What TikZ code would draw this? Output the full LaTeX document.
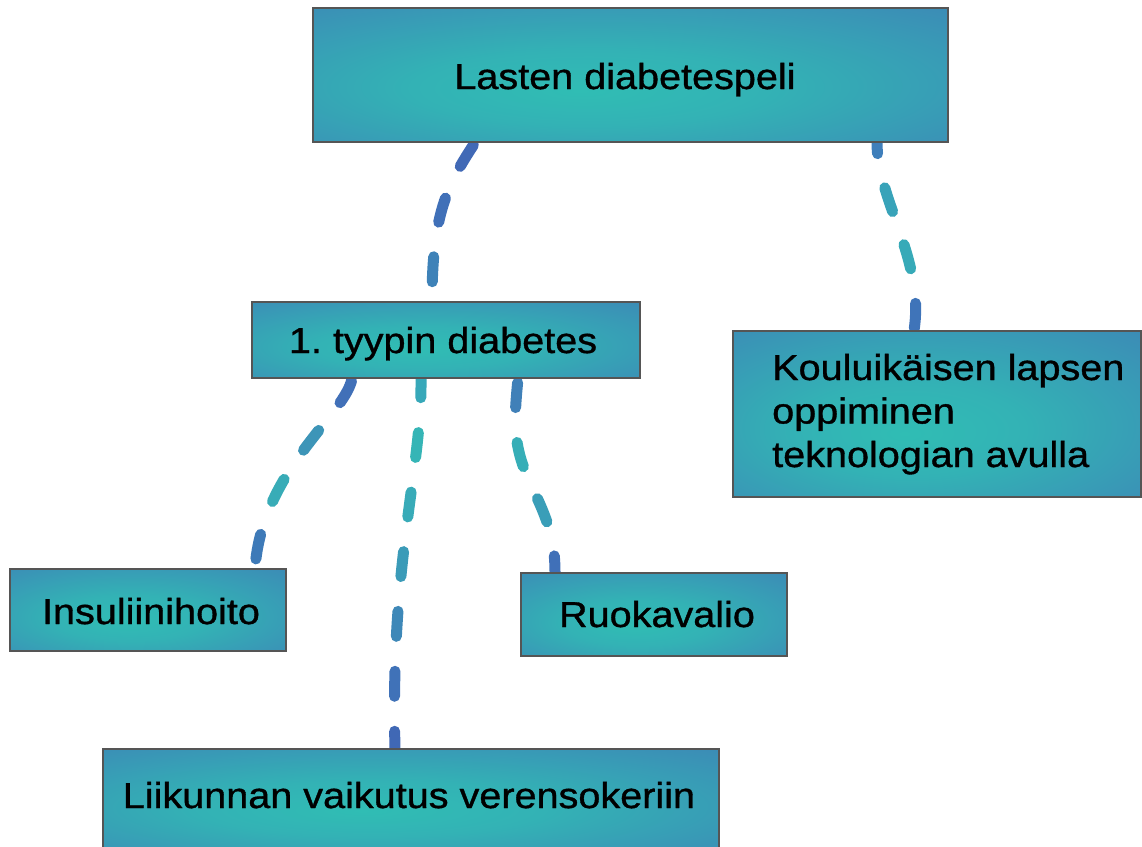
\documentclass[tikz,border=0pt]{standalone}
\usepackage{fontspec}
\setmainfont{Liberation Sans}[FakeStretch=1.1,FakeBold=1]
\usetikzlibrary{calc}
\definecolor{shA}{HTML}{30BDB4}
\definecolor{shB}{HTML}{33B2B5}
\definecolor{shC}{HTML}{3A93B6}
\definecolor{shE}{HTML}{3F78B6}
\definecolor{shD}{HTML}{4169B6}
\definecolor{edge}{HTML}{555555}
\pgfdeclareradialshading{boxshade}{\pgfpoint{-4bp}{-6bp}}{color(0bp)=(shA); color(14bp)=(shB); color(34bp)=(shC); color(52bp)=(shE); color(72bp)=(shD)}
\pgfdeclarelayer{bg}
\pgfsetlayers{bg,main}
\tikzset{
  box/.style={rectangle, shade, shading=boxshade, draw=edge, line width=1.3pt, inner sep=0pt},
  lbl/.style={inner sep=0pt, text=black, font=\frenchspacing\fontsize{36}{43.5}\selectfont},
  conn/.style={line width=11pt, line cap=round}
}
\newcommand\dashconn[3]{%
  \foreach \c [count=\k from 0] in {#2} {%
    \pgfmathsetmacro\ph{mod(3025-(#1)-60*\k+6050,3025)}%
    \definecolor{dc}{HTML}{\c}%
    \draw[conn, color=dc, dash pattern=on 25pt off 3000pt, dash phase=\ph pt] #3;
  }%
}
\begin{document}
\begin{tikzpicture}[x=1pt,y=-1pt]
\useasboundingbox (0,0) rectangle (1142,846);
\clip (0,0) rectangle (1142,846);
\begin{pgfonlayer}{bg}
\fill[white] (0,0) rectangle (1142,846);
\end{pgfonlayer}

% boxes
\node[box, minimum width=635pt, minimum height=134pt] (top) at (630.5,75) {};
\node[box, minimum width=388pt, minimum height=76pt] (tyyp) at (446,340) {};
\node[box, minimum width=408pt, minimum height=166pt] (koulu) at (937,414) {};
\node[box, minimum width=276pt, minimum height=82pt] (insul) at (148,610) {};
\node[box, minimum width=266pt, minimum height=83pt] (ruoka) at (654,614.5) {};
\node[box, minimum width=616pt, minimum height=100pt] (liik) at (411,799) {};

% texts
\node[lbl, anchor=base] (tTop) at (625,89) {Lasten diabetespeli};
\node[lbl, anchor=base] (tTyyp) at (443,353) {1. tyypin diabetes};
\node[lbl, anchor=base west] (tKoulu) at (772,380) {\begin{tabular}[t]{@{}l@{}}Kouluikäisen lapsen\\oppiminen\\teknologian avulla\end{tabular}};
\node[lbl, anchor=base] (tInsul) at (151,624) {Insuliinihoito};
\node[lbl, anchor=base] (tRuoka) at (657,627) {Ruokavalio};
\node[lbl, anchor=base] (tLiik) at (409,808) {Liikunnan vaikutus verensokeriin};

% connectors
\begin{pgfonlayer}{bg}
\dashconn{3}{4169B6,4070B8,3E82B8}{(top.south -| 475,0) .. controls (447,185) and (432,215) .. (tyyp.north -| 432,0)}
\dashconn{-14}{3F7FBB,38A3B9,37AAB8,3F74B9}{(top.south -| 877,0) .. controls (877,200) and (925,260) .. (koulu.north -| 914,0)}
\dashconn{2}{4170B8,3D95B8,38ACB7,3E7AB8}{(tyyp.south -| 352,0) .. controls (345,415) and (262,470) .. (insul.north -| 255,0)}
\dashconn{-6}{37A8B9,35B5B6,38ABB8,3B9BB8,3E88B8,4072B8,4068B5}{(tyyp.south -| 421,0) .. controls (422,470) and (390,560) .. (liik.north -| 395,0)}
\dashconn{4}{4080B8,36AEB7,3A9EB8,4070B8}{(tyyp.south -| 518,0) .. controls (514,420) and (512,445) .. (531,485) .. controls (548,520) and (555,540) .. (ruoka.north -| 555,0)}
\end{pgfonlayer}
\end{tikzpicture}
\end{document}
